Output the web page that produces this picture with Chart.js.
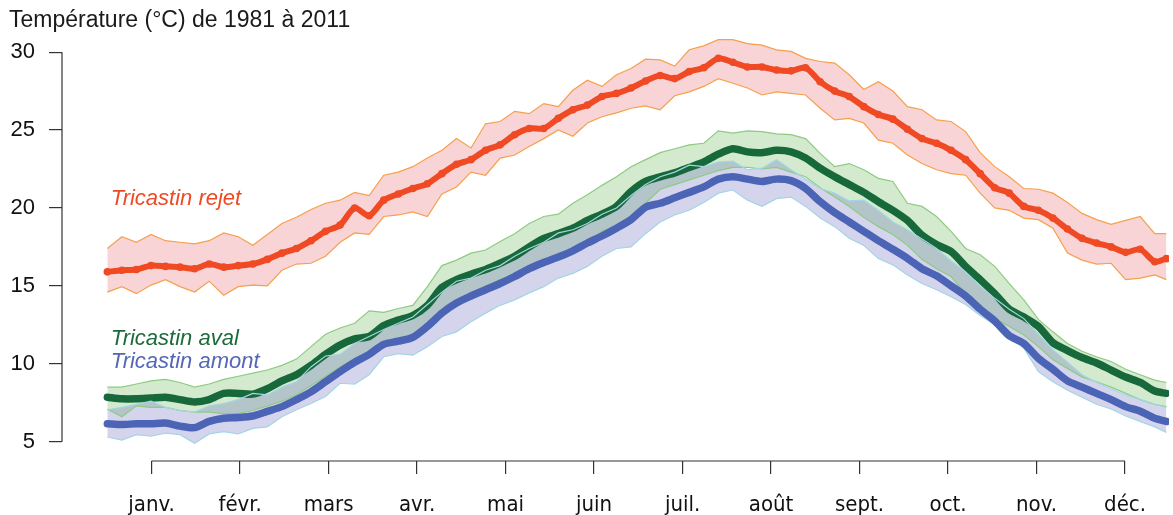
<!DOCTYPE html>
<html lang="fr">
<head>
<meta charset="utf-8">
<title>Température (°C) de 1981 à 2011</title>
<script src="https://cdn.jsdelivr.net/npm/chart.js@4.4.1/dist/chart.umd.min.js"></script>
<style>
  html, body { margin: 0; padding: 0; background: #fff; }
  #wrap { width: 1173px; height: 515px; }
</style>
</head>
<body>
<div id="wrap"><canvas id="tempChart" width="1173" height="515"></canvas></div>
<script>
// jour de l'année (0 = 1er janvier), un point tous les 5 jours
const days = [0, 5, 10, 15, 20, 25, 30, 35, 40, 45, 50, 55, 60, 65, 70, 75, 80, 85, 90,
  95, 100, 105, 110, 115, 120, 125, 130, 135, 140, 145, 150, 155, 160, 165, 170, 175, 180, 185,
  190, 195, 200, 205, 210, 215, 220, 225, 230, 235, 240, 245, 250, 255, 260, 265, 270, 275,
  280, 285, 290, 295, 300, 305, 310, 315, 320, 325, 330, 335, 340, 345, 350, 355, 360, 364]

const months = ['janv.', 'févr.', 'mars', 'avr.', 'mai', 'juin', 'juil.', 'août', 'sept.', 'oct.', 'nov.', 'déc.']
const yTicks = [5, 10, 15, 20, 25, 30]

// Tricastin rejet
const rejetMoy = [15.9, 16.0, 16.05, 16.3, 16.25, 16.2, 16.1, 16.4, 16.2, 16.3, 16.4, 16.7, 17.1, 17.4, 17.9, 18.5, 18.9, 20.0, 19.5,
  20.5, 20.9, 21.25, 21.55, 22.2, 22.8, 23.1, 23.7, 24.05, 24.7, 25.1, 25.1, 25.75, 26.3, 26.6, 27.15, 27.35, 27.7, 28.15,
  28.5, 28.3, 28.75, 29.0, 29.6, 29.35, 29.05, 29.05, 28.85, 28.8, 29.0, 28.1, 27.5, 27.15, 26.5, 26.0, 25.7, 25.05,
  24.45, 24.15, 23.7, 23.1, 22.2, 21.3, 20.95, 20.1, 19.85, 19.35, 18.65, 18.05, 17.75, 17.5, 17.15, 17.35, 16.55, 16.75]
const rejetHaut = [17.4, 18.15, 17.8, 18.3, 17.9, 17.8, 17.7, 17.9, 18.4, 18.15, 17.6, 18.3, 19.0, 19.4, 19.9, 20.3, 20.5, 21.0, 20.8,
  22.1, 22.3, 22.65, 23.2, 23.7, 24.45, 23.85, 25.4, 25.55, 26.2, 26.05, 26.7, 26.5, 27.55, 28.2, 27.8, 28.55, 28.95, 29.55,
  29.5, 29.1, 30.15, 30.4, 30.8, 30.8, 30.55, 30.45, 30.15, 30.05, 29.6, 29.4, 29.3, 28.55, 27.6, 28.1, 27.5, 26.5,
  26.3, 25.65, 25.55, 24.9, 23.55, 22.65, 22.0, 21.25, 21.2, 20.95, 20.35, 19.65, 19.25, 18.95, 19.2, 19.45, 18.35, 18.35]
const rejetBas = [14.6, 14.95, 14.5, 15.05, 15.4, 14.95, 14.6, 15.3, 14.4, 14.95, 15.05, 15.0, 16.0, 16.4, 16.45, 16.9, 17.8, 18.4, 18.3,
  19.45, 19.55, 19.75, 19.45, 20.9, 21.35, 22.3, 22.1, 23.2, 23.4, 23.95, 24.45, 25.0, 24.6, 25.45, 25.85, 26.1, 26.4, 26.55,
  26.3, 27.2, 27.45, 27.8, 28.3, 28.0, 27.7, 27.25, 27.45, 27.35, 27.25, 26.4, 25.65, 25.75, 25.45, 24.35, 24.15, 23.4,
  22.85, 22.45, 22.2, 22.1, 20.95, 20.0, 19.85, 19.35, 19.25, 18.7, 17.1, 16.65, 16.4, 16.45, 15.4, 15.5, 15.7, 15.4]

// Tricastin aval
const avalMoy = [7.85, 7.75, 7.75, 7.8, 7.85, 7.7, 7.55, 7.7, 8.1, 8.1, 8.05, 8.4, 8.9, 9.3, 9.9, 10.6, 11.2, 11.6, 11.75,
  12.45, 12.8, 13.1, 13.75, 14.9, 15.4, 15.75, 16.05, 16.45, 16.9, 17.5, 18.05, 18.35, 18.7, 19.2, 19.6, 20.1, 21.05, 21.7,
  22.0, 22.25, 22.6, 22.95, 23.45, 23.8, 23.6, 23.55, 23.7, 23.6, 23.2, 22.55, 22.0, 21.5, 21.0, 20.4, 19.85, 19.2,
  18.25, 17.65, 17.2, 16.25, 15.4, 14.5, 13.5, 13.0, 12.4, 11.35, 10.85, 10.4, 10.05, 9.6, 9.15, 8.8, 8.25, 8.1]
const avalHaut = [8.5, 8.5, 8.7, 8.9, 9.0, 8.8, 8.5, 8.7, 9.0, 9.2, 9.4, 9.6, 9.9, 10.3, 11.1, 11.9, 12.3, 12.6, 13.4,
  13.3, 13.55, 13.75, 14.95, 16.3, 16.65, 17.1, 17.3, 17.85, 18.35, 19.0, 19.45, 19.6, 20.3, 20.85, 21.45, 22.0, 22.65, 23.1,
  23.55, 23.8, 24.05, 24.15, 24.95, 24.8, 24.95, 24.9, 24.75, 24.7, 24.45, 23.5, 22.65, 22.85, 22.45, 21.9, 21.7, 20.3,
  20.1, 19.45, 18.5, 17.4, 17.0, 16.25, 15.15, 14.1, 12.85, 12.05, 11.3, 10.8, 10.45, 10.15, 9.65, 9.3, 8.95, 8.8]
const avalBas = [7.1, 6.6, 7.3, 7.2, 7.2, 7.0, 6.9, 6.9, 6.8, 6.8, 7.0, 7.3, 7.6, 8.0, 8.6, 9.2, 9.8, 10.3, 10.7,
  11.2, 11.5, 11.8, 12.6, 13.3, 14.1, 14.5, 15.0, 15.4, 15.8, 16.3, 16.7, 17.0, 17.4, 17.8, 18.5, 18.9, 19.5, 20.3,
  21.2, 21.5, 21.8, 22.1, 22.4, 22.6, 22.6, 22.5, 22.6, 22.3, 22.0, 21.3, 20.7, 20.1, 19.4, 18.8, 18.3, 17.6,
  16.7, 16.1, 15.6, 14.5, 13.8, 12.9, 12.4, 11.85, 11.1, 10.25, 9.7, 9.15, 8.85, 8.5, 8.1, 7.7, 7.4, 7.25]

// Tricastin amont
const amontMoy = [6.15, 6.1, 6.15, 6.15, 6.2, 6.0, 5.9, 6.3, 6.5, 6.55, 6.65, 6.95, 7.25, 7.7, 8.2, 8.85, 9.5, 10.1, 10.6,
  11.25, 11.45, 11.7, 12.4, 13.25, 13.9, 14.35, 14.75, 15.15, 15.6, 16.1, 16.5, 16.85, 17.25, 17.75, 18.2, 18.7, 19.25, 20.05,
  20.3, 20.65, 21.0, 21.35, 21.85, 22.0, 21.85, 21.7, 21.85, 21.75, 21.25, 20.4, 19.7, 19.1, 18.5, 17.9, 17.35, 16.77,
  16.1, 15.65, 15.0, 14.35, 13.5, 12.75, 11.8, 11.3, 10.35, 9.65, 8.9, 8.5, 8.1, 7.7, 7.25, 6.95, 6.5, 6.3]
const amontHaut = [7.05, 7.2, 7.4, 7.6, 7.2, 7.0, 6.9, 7.3, 7.45, 7.7, 8.1, 8.0, 8.5, 8.85, 9.8, 10.5, 10.6, 11.3, 11.75,
  12.2, 12.6, 13.0, 13.8, 14.6, 15.3, 15.5, 16.0, 16.3, 16.9, 17.4, 17.8, 18.4, 18.6, 19.0, 19.6, 20.0, 20.8, 21.5,
  22.0, 22.3, 22.75, 22.65, 22.95, 23.0, 22.45, 22.55, 23.1, 22.45, 21.85, 21.25, 20.95, 20.45, 20.5, 19.85, 19.1, 18.6,
  18.0, 17.4, 16.6, 15.9, 15.0, 14.2, 13.5, 12.9, 11.9, 10.9, 10.1, 9.3, 8.8, 8.4, 8.0, 7.7, 7.4, 7.2]
const amontBas = [5.3, 5.1, 5.45, 5.35, 5.55, 5.45, 4.9, 5.5, 5.65, 5.5, 5.85, 5.95, 6.6, 7.05, 7.45, 7.9, 8.75, 8.7, 9.3,
  10.45, 10.65, 10.55, 11.1, 11.75, 12.05, 12.7, 13.25, 13.75, 14.1, 14.55, 14.95, 15.5, 15.8, 16.25, 16.9, 17.4, 17.5, 18.35,
  19.1, 19.55, 19.85, 20.35, 20.95, 21.15, 20.5, 20.1, 20.6, 20.7, 20.1, 19.35, 18.8, 18.05, 17.6, 16.75, 16.35, 15.7,
  15.15, 14.75, 14.3, 13.8, 13.1, 12.5, 11.75, 11.0, 9.5, 8.85, 8.3, 7.85, 7.4, 7.1, 6.65, 6.3, 5.95, 5.6]

const font = '"Liberation Sans", Arial, Helvetica, sans-serif'
const narrowFont = '"Liberation Sans Narrow", "Arial Narrow", "DejaVu Sans Condensed", sans-serif'

function pts(arr){
    return arr.map((v, i) => ({x: days[i], y: v}))
}

function band(data, color, fillColor, target, order){
    return {
        data: pts(data),
        borderColor: color,
        borderWidth: 1.2,
        backgroundColor: fillColor,
        fill: target === null ? false : {target: target},
        pointRadius: 0,
        tension: 0,
        order: order
    }
}

function meanLine(data, color, width, radius, order){
    return {
        data: pts(data),
        borderColor: color,
        backgroundColor: color,
        borderWidth: width,
        borderJoinStyle: 'round',
        borderCapStyle: 'round',
        pointRadius: radius,
        pointBorderWidth: 0,
        tension: 0.25,
        fill: false,
        order: order
    }
}

// axes détachés façon R, titre et noms des séries
const decorations = {
    id: 'decorations',
    afterDraw(chart){
        const {ctx, chartArea, scales: {x, y}} = chart
        ctx.save()
        ctx.strokeStyle = '#333'
        ctx.lineWidth = 1.2
        ctx.beginPath()
        ctx.moveTo(chartArea.left, y.getPixelForValue(yTicks[0]))
        ctx.lineTo(chartArea.left, y.getPixelForValue(yTicks[yTicks.length - 1]))
        ctx.moveTo(x.getPixelForValue(x.ticks[0].value), chartArea.bottom)
        ctx.lineTo(x.getPixelForValue(x.ticks[x.ticks.length - 1].value), chartArea.bottom)
        ctx.stroke()

        ctx.fillStyle = '#1a1a1a'
        ctx.font = '23px ' + font
        ctx.textBaseline = 'alphabetic'
        ctx.fillText('Température (°C) de 1981 à 2011', 9, 27)

        ctx.font = 'italic 22px ' + font
        const lx = x.getPixelForValue(1.2)
        ctx.fillStyle = '#EF4A24'
        ctx.fillText('Tricastin rejet', lx, y.getPixelForValue(20.19))
        ctx.fillStyle = '#1D6B3B'
        ctx.fillText('Tricastin aval', lx, y.getPixelForValue(11.2))
        ctx.fillStyle = '#5467B6'
        ctx.fillText('Tricastin amont', lx, y.getPixelForValue(9.73))
        ctx.restore()
    }
}

const ctx = document.getElementById('tempChart').getContext('2d')
const tempChart = new Chart(ctx, {
    type: 'line',
    data: {
        datasets: [
            band(rejetHaut, '#F6A04A', 'rgba(230,100,110,0.28)', 1, 12),
            band(rejetBas, '#F6A04A', 'transparent', null, 11),
            band(avalHaut, '#8DCB80', 'rgba(110,185,95,0.3)', 3, 10),
            band(avalBas, '#8DCB80', 'transparent', null, 9),
            meanLine(avalMoy, '#17683A', 7.5, 0, 8.5),
            band(amontHaut, '#A3D5E6', 'rgba(100,100,185,0.28)', 6, 8),
            band(amontBas, '#A3D5E6', 'transparent', null, 7),
            meanLine(amontMoy, '#4C64B6', 7.5, 0, 6),
            meanLine(rejetMoy, '#EF4A24', 6, 3.8, 5)
        ]
    },
    options: {
        responsive: false,
        devicePixelRatio: 1,
        animation: false,
        layout: { padding: { top: 30, left: 0, right: 0, bottom: 0 } },
        plugins: {
            legend: { display: false },
            tooltip: { enabled: false },
            filler: { propagate: false, drawTime: 'beforeDatasetsDraw' }
        },
        scales: {
            x: {
                type: 'linear',
                min: -15.58,
                max: 364.9,
                afterBuildTicks: s => { s.ticks = months.map((m, i) => ({value: (i + 0.5) * 365 / 12})) },
                afterFit: s => { s.height = 54 },
                border: { display: false },
                grid: { drawOnChartArea: false, drawTicks: true, tickLength: 13, color: '#333', lineWidth: 1.2 },
                ticks: {
                    autoSkip: false,
                    maxRotation: 0,
                    padding: 18,
                    color: '#111',
                    font: { family: narrowFont, size: 22 },
                    callback: (v, i) => months[i]
                }
            },
            y: {
                type: 'linear',
                min: 3.761,
                max: 31.42,
                afterBuildTicks: s => { s.ticks = yTicks.map(v => ({value: v})) },
                afterFit: s => { s.width = 62 },
                border: { display: false },
                grid: { drawOnChartArea: false, drawTicks: true, tickLength: 13, color: '#333', lineWidth: 1.2 },
                ticks: {
                    padding: 14,
                    color: '#111',
                    font: { family: font, size: 22 },
                    callback: v => String(v)
                }
            }
        }
    },
    plugins: [decorations]
})
</script>
</body>
</html>
